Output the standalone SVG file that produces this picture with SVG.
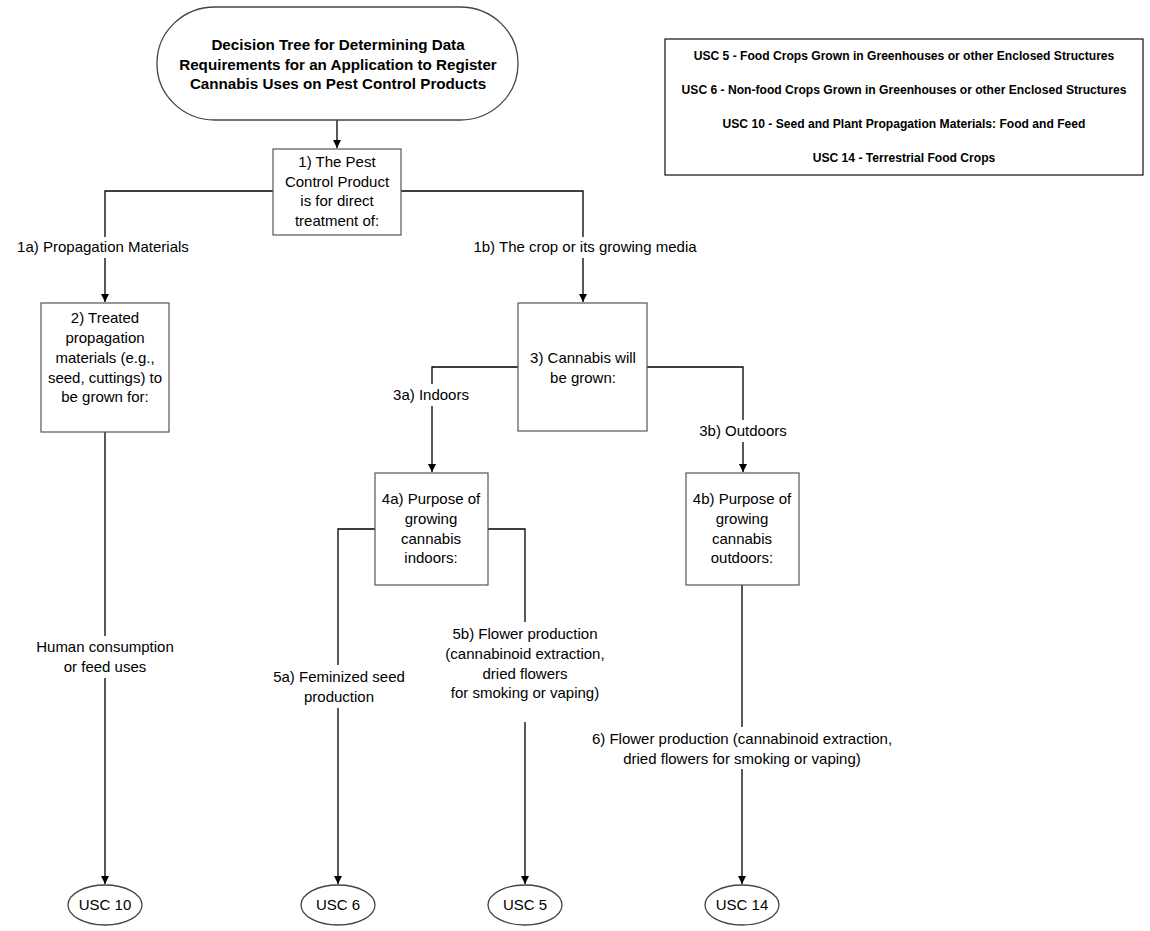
<svg xmlns="http://www.w3.org/2000/svg" width="1150" height="931" viewBox="0 0 1150 931">
<style>
text{font-family:"Liberation Sans",Arial,sans-serif;font-size:15px;fill:#000;text-anchor:middle}
.title{font-weight:bold;font-size:15.2px}
.leg{font-weight:bold;font-size:12.1px}
.box{fill:#fff;stroke:#555;stroke-width:1.2}
.term{fill:#fff;stroke:#444;stroke-width:1.3}
.legbox{fill:#fff;stroke:#222;stroke-width:1.3}
.ln{fill:none;stroke:#000;stroke-width:1.3}
</style>
<defs>
<marker id="ah" markerUnits="userSpaceOnUse" markerWidth="9" markerHeight="9" refX="8" refY="4" orient="auto">
<path d="M0,0 L8,4 L0,8 z" fill="#000"/>
</marker>
</defs>
<rect width="1150" height="931" fill="#fff"/>
<g id="connectors">
<path class="ln" d="M337,120 V148" marker-end="url(#ah)"/>
<path class="ln" d="M273,191 H105 V237"/>
<path class="ln" d="M105,258 V302" marker-end="url(#ah)"/>
<path class="ln" d="M401,191 H583 V237"/>
<path class="ln" d="M583,258 V302" marker-end="url(#ah)"/>
<path class="ln" d="M105,432 V636"/>
<path class="ln" d="M105,678 V884" marker-end="url(#ah)"/>
<path class="ln" d="M518,367 H432 V384"/>
<path class="ln" d="M432,406 V472" marker-end="url(#ah)"/>
<path class="ln" d="M647,367 H743 V420"/>
<path class="ln" d="M743,442 V472" marker-end="url(#ah)"/>
<path class="ln" d="M375,529 H338 V665"/>
<path class="ln" d="M338,708 V884" marker-end="url(#ah)"/>
<path class="ln" d="M488,529 H525 V622"/>
<path class="ln" d="M525,722 V884" marker-end="url(#ah)"/>
<path class="ln" d="M742,585 V727"/>
<path class="ln" d="M742,769 V884" marker-end="url(#ah)"/>
</g>
<g id="labels">
<text x="103" y="252">1a) Propagation Materials</text>
<text x="585" y="252">1b) The crop or its growing media</text>
<text x="431" y="400">3a) Indoors</text>
<text x="743" y="436">3b) Outdoors</text>
<text x="105" y="652">Human consumption</text>
<text x="105" y="672">or feed uses</text>
<text x="339" y="682">5a) Feminized seed</text>
<text x="339" y="702">production</text>
<text x="525" y="639">5b) Flower production</text>
<text x="525" y="659">(cannabinoid extraction,</text>
<text x="525" y="679">dried flowers</text>
<text x="525" y="698">for smoking or vaping)</text>
<text x="742" y="744">6) Flower production (cannabinoid extraction,</text>
<text x="742" y="764">dried flowers for smoking or vaping)</text>
</g>
<g id="title">
<rect x="157" y="7" width="361" height="113" rx="58" ry="56" class="term"/>
<text class="title" x="338" y="50">Decision Tree for Determining Data</text>
<text class="title" x="338" y="70">Requirements for an Application to Register</text>
<text class="title" x="338" y="89">Cannabis Uses on Pest Control Products</text>
</g>
<g id="legend">
<rect x="665" y="39" width="478" height="136" class="legbox"/>
<text class="leg" x="904" y="60">USC 5 - Food Crops Grown in Greenhouses or other Enclosed Structures</text>
<text class="leg" x="904" y="94">USC 6 - Non-food Crops Grown in Greenhouses or other Enclosed Structures</text>
<text class="leg" x="904" y="128">USC 10 - Seed and Plant Propagation Materials: Food and Feed</text>
<text class="leg" x="904" y="162">USC 14 - Terrestrial Food Crops</text>
</g>
<g id="n1">
<rect x="273" y="149" width="128" height="86" class="box"/>
<text x="337" y="167">1) The Pest</text>
<text x="337" y="187">Control Product</text>
<text x="337" y="206">is for direct</text>
<text x="337" y="226">treatment of:</text>
</g>
<g id="n2">
<rect x="41" y="303" width="128" height="129" class="box"/>
<text x="105" y="323">2) Treated</text>
<text x="105" y="343">propagation</text>
<text x="105" y="363">materials (e.g.,</text>
<text x="105" y="383">seed, cuttings) to</text>
<text x="105" y="402">be grown for:</text>
</g>
<g id="n3">
<rect x="518" y="303" width="129" height="128" class="box"/>
<text x="583" y="363">3) Cannabis will</text>
<text x="583" y="383">be grown:</text>
</g>
<g id="n4a">
<rect x="375" y="473" width="113" height="112" class="box"/>
<text x="431" y="504">4a) Purpose of</text>
<text x="431" y="524">growing</text>
<text x="431" y="544">cannabis</text>
<text x="431" y="563">indoors:</text>
</g>
<g id="n4b">
<rect x="686" y="473" width="113" height="112" class="box"/>
<text x="742" y="504">4b) Purpose of</text>
<text x="742" y="524">growing</text>
<text x="742" y="544">cannabis</text>
<text x="742" y="563">outdoors:</text>
</g>
<g id="usc10">
<ellipse cx="105" cy="905" rx="37" ry="20" class="term"/>
<text x="105" y="910">USC 10</text>
</g>
<g id="usc6">
<ellipse cx="338" cy="905" rx="37" ry="20" class="term"/>
<text x="338" y="910">USC 6</text>
</g>
<g id="usc5">
<ellipse cx="525" cy="905" rx="37" ry="20" class="term"/>
<text x="525" y="910">USC 5</text>
</g>
<g id="usc14">
<ellipse cx="742" cy="905" rx="37" ry="20" class="term"/>
<text x="742" y="910">USC 14</text>
</g>
</svg>
